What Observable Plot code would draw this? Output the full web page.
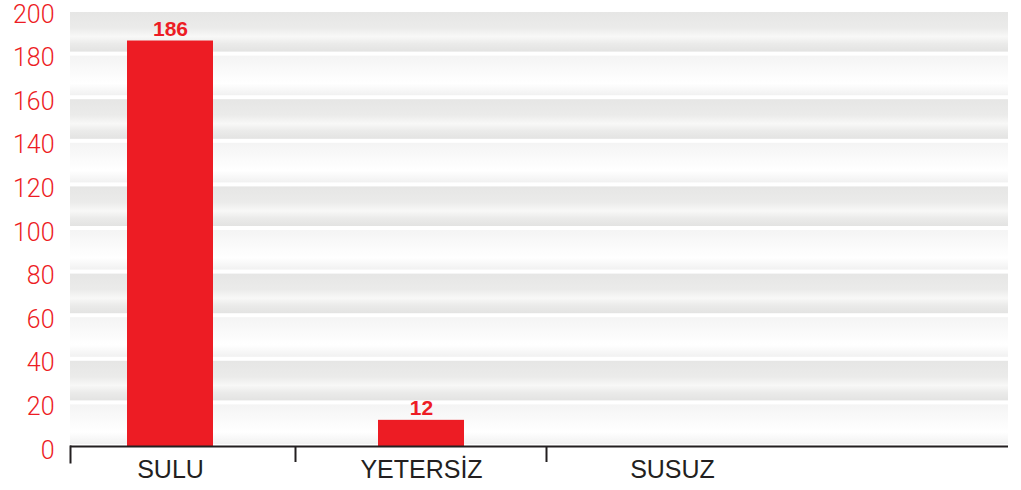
<!DOCTYPE html>
<html><head><meta charset="utf-8">
<script src="https://cdn.jsdelivr.net/npm/d3@7"></script>
<script src="https://cdn.jsdelivr.net/npm/@observablehq/plot@0.6"></script>
<style>body{margin:0;background:#fff} #chart svg{display:block}</style>
</head><body><div id="chart"></div>
<script>
const categories = ["SULU", "YETERSİZ", "SUSUZ"];
const counts = [186, 12, 0];
const yTicks = [0, 20, 40, 60, 80, 100, 120, 140, 160, 180, 200];

const red = "#ed1c24", ink = "#231f20";
const data = categories.map((c, i) => ({cat: c, value: counts[i]}));
const bands = yTicks.slice(0, -1).map((lo, i) => ({lo, hi: yTicks[i + 1], dark: (yTicks.length - 2 - i) % 2 === 0}));

const chart = Plot.plot({
  width: 1021, height: 490,
  marginLeft: 70, marginRight: 13, marginTop: 10, marginBottom: 44,
  style: {background: "#fff", fontFamily: "Liberation Sans, Arial, sans-serif"},
  x: {type: "band", domain: categories, range: [44.5, 797.5], paddingInner: 0.657, paddingOuter: 0.3285, label: null},
  y: {domain: [0, 200], label: null},
  marks: [
    Plot.rect(bands.filter(d => d.dark), {y1: "lo", y2: "hi", fill: "url(#bandDark)", insetTop: 2, insetBottom: 2}),
    Plot.rect(bands.filter(d => !d.dark), {y1: "lo", y2: "hi", fill: "url(#bandLight)", insetTop: 2, insetBottom: 2}),
    Plot.barY(data, {x: "cat", y: "value", fill: red}),
    Plot.text(data.filter(d => d.value > 0), {x: "cat", y: "value", text: d => String(d.value), dy: -12, fill: red, fontSize: 21, fontWeight: "bold"}),
    Plot.ruleY([0], {stroke: ink, strokeWidth: 2}),
    Plot.ruleX(categories.slice(1), {x: d => d, y1: 0, y2: 0, dx: -126, insetBottom: -16, stroke: ink, strokeWidth: 2}),
    Plot.frame({anchor: "left", insetTop: 436, insetBottom: -16, stroke: ink, strokeWidth: 2}),
    Plot.axisY(yTicks, {tickSize: 0, tickPadding: 16, dy: 4, color: red, fontSize: 25, fontFamily: "Roboto", fontWeight: 300}),
    Plot.axisX({tickSize: 0, tickPadding: 14, color: ink, fontSize: 25, label: null})
  ]
});

const defs = d3.create("svg:defs");
const gd = defs.append("linearGradient").attr("id", "bandDark").attr("x1", 0).attr("y1", 0).attr("x2", 0).attr("y2", 1);
[["0%", "#e6e6e5"], ["40%", "#ebebea"], ["62%", "#f8f8f7"], ["80%", "#ebebea"], ["100%", "#e3e3e2"]]
  .forEach(([o, c]) => gd.append("stop").attr("offset", o).attr("stop-color", c));
const gl = defs.append("linearGradient").attr("id", "bandLight").attr("x1", 0).attr("y1", 0).attr("x2", 0).attr("y2", 1);
[["0%", "#f4f4f4"], ["50%", "#fcfcfc"], ["70%", "#ffffff"], ["100%", "#f1f1f1"]]
  .forEach(([o, c]) => gl.append("stop").attr("offset", o).attr("stop-color", c));
chart.insertBefore(defs.node(), chart.firstChild);

document.getElementById("chart").append(chart);
</script>
</body></html>
